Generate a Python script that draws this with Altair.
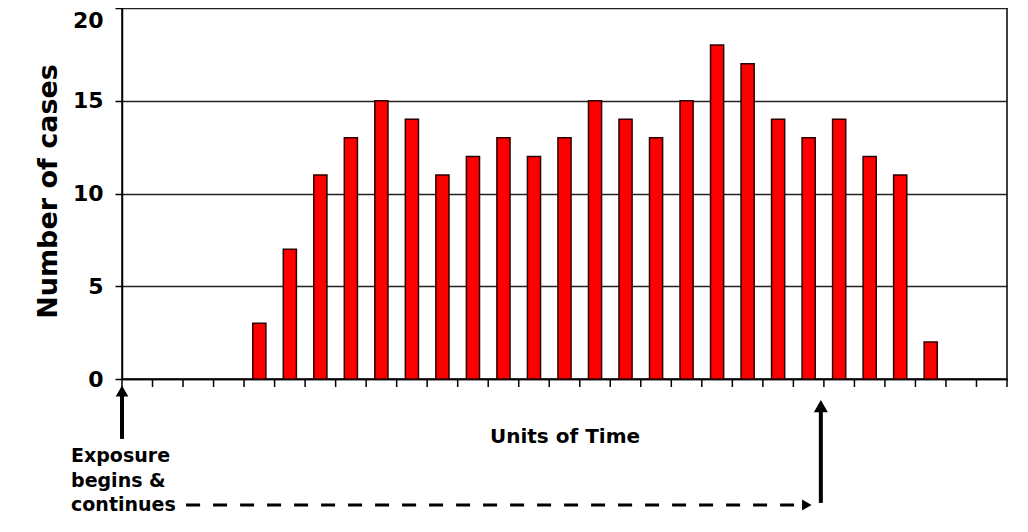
import altair as alt
import pandas as pd

# ---- data ----
units = list(range(29))
cases = [0, 0, 0, 0, 3, 7, 11, 13, 15, 14, 11, 12, 13, 12, 13, 15, 14, 13, 15, 18, 17, 14, 13, 14, 12, 11, 2, 0, 0]
y_ticks = [0, 5, 10, 15, 20]
x_tick_values = list(range(30))
note_lines = ["Exposure", "begins &", "continues"]

FONT = "DejaVu Sans"
BAR_HALF = 0.215
PX_PER_UNIT = 371 / 20.0

bars_df = pd.DataFrame({"unit": units, "cases": cases})
bars_df = bars_df[bars_df["cases"] > 0].copy()
bars_df["x0"] = bars_df["unit"] + 0.5 - BAR_HALF
bars_df["x1"] = bars_df["unit"] + 0.5 + BAR_HALF

xscale = alt.Scale(domain=[0, 29], nice=False, zero=False)
yscale = alt.Scale(domain=[0, 20], nice=False)

xaxis = alt.Axis(values=x_tick_values, labels=False, ticks=False, grid=False,
                 domainColor="black", domainWidth=1.5,
                 title="Units of Time", titleFont=FONT, titleFontSize=20,
                 titleFontWeight="bold", titleColor="black", titlePadding=47)
yaxis = alt.Axis(values=y_ticks, grid=True, gridColor="#222", gridWidth=1.5,
                 tickSize=7, tickColor="black", tickWidth=1.5, domainColor="black",
                 domainWidth=1.5, labelFont=FONT, labelFontSize=22, labelFontWeight="bold",
                 labelColor="black", labelPadding=12,
                 labelBaseline={"condition": {"test": "datum.value == 20", "value": "top"},
                                "value": "middle"},
                 labelOffset={"condition": {"test": "datum.value == 20", "value": 2},
                              "value": 0},
                 title="Number of cases", titleFont=FONT, titleFontSize=27,
                 titleFontWeight="bold", titleColor="black", titleAngle=270,
                 titleBaseline="middle", titleX=-74, titleY=183)


def X(f):
    return alt.X(f, scale=xscale, axis=xaxis)


def Y(f):
    return alt.Y(f, scale=yscale, axis=yaxis)


bars = alt.Chart(bars_df).mark_bar(color="#ff0000", stroke="#2a0000", strokeWidth=1.5).encode(
    x=X("x0:Q"),
    x2="x1:Q",
    y=Y("cases:Q"),
    y2=alt.datum(0),
)

# x-axis tick marks (8 px long, pointing down)
ticks_df = pd.DataFrame({"t": x_tick_values})
xticks = alt.Chart(ticks_df).mark_rule(color="black", strokeWidth=1.5).encode(
    x=X("t:Q"), y=Y("z:Q"), y2="z2:Q"
).transform_calculate(z="0", z2=str(-8 / PX_PER_UNIT))

# ---- annotation geometry (data units) ----
shaft_df = pd.DataFrame({"x": [0.0, 22.9], "y0": [-0.86, -1.67], "y1": [-3.23, -6.68]})
shafts = alt.Chart(shaft_df).mark_rule(color="black", strokeWidth=4).encode(
    x=X("x:Q"), y=Y("y0:Q"), y2="y1:Q")

heads_up_df = pd.DataFrame({"x": [0.0, 22.9], "y": [-0.65, -1.46], "s": [160, 196]})
heads_up = alt.Chart(heads_up_df).mark_point(shape="triangle-up", filled=True, color="black", opacity=1).encode(
    x=X("x:Q"), y=Y("y:Q"), size=alt.Size("s:Q", scale=None))

dash_df = pd.DataFrame({"x0": [2.10], "x1": [22.20], "y": [-6.79]})
dash = alt.Chart(dash_df).mark_rule(color="black", strokeWidth=3, strokeDash=[14, 13]).encode(
    x=X("x0:Q"), x2="x1:Q", y=Y("y:Q"))

head_r_df = pd.DataFrame({"x": [22.44], "y": [-6.79]})
head_r = alt.Chart(head_r_df).mark_point(shape="triangle-right", filled=True, color="black", opacity=1, size=121).encode(
    x=X("x:Q"), y=Y("y:Q"))

note_df = pd.DataFrame({"text": note_lines, "x": [-1.67] * 3, "y": [-4.15, -5.50, -6.79]})
notes = alt.Chart(note_df).mark_text(align="left", baseline="middle", font=FONT, fontSize=19,
                                     fontWeight="bold", color="black").encode(
    x=X("x:Q"), y=Y("y:Q"), text="text:N")

chart = alt.layer(bars, xticks, shafts, heads_up, dash, head_r, notes).properties(
    width=885, height=371,
    background="white",
    autosize=alt.AutoSizeParams(type="none"),
    padding={"left": 114, "top": 0, "right": 13, "bottom": 145},
).configure_view(stroke="black", strokeWidth=1.5)

chart.save("out.html", embed_options={"renderer": "svg", "actions": False})
